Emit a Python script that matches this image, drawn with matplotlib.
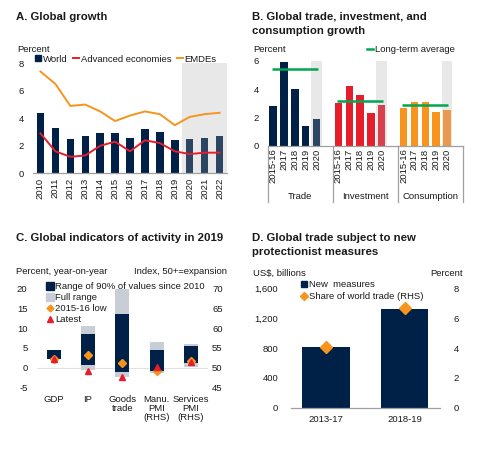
import numpy as np
import matplotlib
matplotlib.use("Agg")
import matplotlib.pyplot as plt
import matplotlib.transforms as mtransforms
from matplotlib.lines import Line2D

plt.rcParams['font.family'] = ['Liberation Sans', 'DejaVu Sans']
plt.rcParams['text.color'] = '#1a1a1a'
plt.rcParams['xtick.color'] = '#1a1a1a'
plt.rcParams['ytick.color'] = '#1a1a1a'
plt.rcParams['axes.unicode_minus'] = False

# ---- data ----
# A. Global growth
years = ['2010', '2011', '2012', '2013', '2014', '2015', '2016',
         '2017', '2018', '2019', '2020', '2021', '2022']
world = [4.4, 3.3, 2.5, 2.7, 2.9, 2.9, 2.6, 3.2, 3.0, 2.4, 2.5, 2.6, 2.7]
advanced = [2.9, 1.6, 1.2, 1.3, 2.0, 2.3, 1.6, 2.4, 2.2, 1.6, 1.4, 1.5, 1.5]
emdes = [7.4, 6.5, 4.9, 5.0, 4.5, 3.8, 4.2, 4.5, 4.3, 3.5, 4.1, 4.3, 4.4]
n_forecast = 3

# B. Trade, investment, consumption
b_periods = ['2015-16', '2017', '2018', '2019', '2020']
b_groups = ['Trade', 'Investment', 'Consumption']
trade = [2.8, 5.9, 4.0, 1.4, 1.9]
investment = [3.0, 4.2, 3.6, 2.3, 2.9]
consumption = [2.7, 3.1, 3.1, 2.4, 2.5]
long_term_avg = [5.4, 3.2, 2.9]

# C. Indicators of activity (first three: percent, last two: index)
c_labels = ['GDP', 'IP', 'Goods\ntrade', 'Manu.\nPMI\n(RHS)', 'Services\nPMI\n(RHS)']
c_full_lo = [2.1, -0.6, -2.3]
c_full_hi = [4.6, 10.6, 19.7]
c_p90_lo = [2.1, 0.7, -1.0]
c_p90_hi = [4.5, 8.5, 13.6]
c_low = [2.1, 3.2, 1.1]
c_latest = [2.3, -0.7, -2.3]
pmi_full_lo = [48.6, 50.2]
pmi_full_hi = [56.5, 56.1]
pmi_p90_lo = [49.3, 51.2]
pmi_p90_hi = [54.6, 55.4]
pmi_low = [49.3, 51.8]
pmi_latest = [50.2, 51.5]

# D. Protectionist measures
d_periods = ['2013-17', '2018-19']
new_measures = [815, 1325]
share_world = [4.05, 6.65]

# ---- style ----
navy = '#002147'
navy_fc = '#2c4562'
red = '#e61e2b'
red_fc = '#d8404e'
orange = '#f7941d'
orange_fc = '#e89a4e'
green = '#00a651'
shade = '#e8e8e8'
fullgray = '#c9cdd5'
spine = '#a0a0a0'
FS = 6.8

W, H = 498, 449
fig = plt.figure(figsize=(W / 100, H / 100), dpi=100)


def px_axes(l, t, r, b):
    return fig.add_axes([l / W, 1 - b / H, (r - l) / W, (b - t) / H])


def ftext(x, y, s, **kw):
    kw.setdefault('fontsize', FS)
    kw.setdefault('va', 'center')
    fig.text(x / W, 1 - y / H, s, **kw)


def clean(ax, keep_bottom=True):
    for side in ['top', 'right', 'left']:
        ax.spines[side].set_visible(False)
    if keep_bottom:
        ax.spines['bottom'].set_color(spine)
        ax.spines['bottom'].set_linewidth(0.9)
    else:
        ax.spines['bottom'].set_visible(False)
    ax.tick_params(length=0, labelsize=FS)


def px_legend(ax, handles, labels, x, y, **kw):
    return ax.legend(handles, labels, loc='center left',
                     bbox_to_anchor=(x / W, 1 - y / H),
                     bbox_transform=fig.transFigure, frameon=False,
                     fontsize=FS, borderpad=0, borderaxespad=0, **kw)


# ---- A ----
axA = px_axes(33, 63.3, 227, 173.3)
xa = np.arange(len(years))
n_hist = len(years) - n_forecast
axA.axvspan(n_hist - 0.5, len(years) - 0.5, color=shade, zorder=0, lw=0)
colsA = [navy] * n_hist + [navy_fc] * n_forecast
axA.bar(xa, world, width=0.5, color=colsA, zorder=2)
axA.plot(xa, advanced, color=red, lw=1.4, zorder=3)
axA.plot(xa, emdes, color=orange, lw=1.4, zorder=3)
axA.set_xlim(-0.5, len(years) - 0.5)
axA.set_ylim(0, 8)
axA.set_yticks([0, 2, 4, 6, 8])
axA.set_xticks(xa)
axA.set_xticklabels(years, rotation=90)
clean(axA)
axA.tick_params(axis='y', pad=6.5)
axA.tick_params(axis='x', pad=3.3)
hA = [Line2D([], [], marker='s', ls='none', color=navy, markersize=5),
      Line2D([], [], color=red, lw=1.4),
      Line2D([], [], color=orange, lw=1.4)]
px_legend(axA, hA, ['World', 'Advanced economies', 'EMDEs'], 35, 59,
          ncol=3, handlelength=0.7, handletextpad=0.15, columnspacing=0.55)
ftext(16, 17, 'A. Global growth', fontsize=8.2, fontweight='bold')
ftext(17, 50, 'Percent')

# ---- B ----
axB = px_axes(267.7, 61, 463.3, 145.7)
seriesB = [trade, investment, consumption]
colB = [(navy, navy_fc), (red, red_fc), (orange, orange_fc)]
step = len(b_periods) + 1
xt, xl = [], []
for g, (vals, (c, cfc)) in enumerate(zip(seriesB, colB)):
    pos = np.arange(len(vals)) + g * step
    axB.bar(pos[-1], 6, width=1.0, color=shade, zorder=0, lw=0)
    cols = [c] * (len(vals) - 1) + [cfc]
    axB.bar(pos, vals, width=0.68, color=cols, zorder=2)
    axB.hlines(long_term_avg[g], pos[0] - 0.1, pos[-1] + 0.1,
               color=green, lw=1.8, zorder=3)
    xt.extend(pos)
    xl.extend(b_periods)
axB.set_xlim(-0.5, len(b_groups) * step - 0.5)
axB.set_ylim(0, 6)
axB.set_yticks([0, 2, 4, 6])
axB.set_xticks(xt)
axB.set_xticklabels(xl, rotation=90)
clean(axB)
axB.tick_params(axis='y', pad=6.5)
axB.tick_params(axis='x', pad=2)
trB = mtransforms.blended_transform_factory(axB.transData, axB.transAxes)
for g in range(len(b_groups) + 1):
    xs = g * step - 0.5
    axB.plot([xs, xs], [0, -0.66], transform=trB, color=spine, lw=0.9,
             clip_on=False)
for g, name in enumerate(b_groups):
    axB.text(g * step + (step - 1) / 2, -0.60, name, transform=trB,
             ha='center', va='center', fontsize=FS)
hB = [Line2D([], [], color=green, lw=1.8)]
px_legend(axB, hB, ['Long-term average'], 366.5, 50,
          handlelength=0.7, handletextpad=0.15)
ftext(251.7, 16.7, 'B. Global trade, investment, and',
      fontsize=8.2, fontweight='bold')
ftext(251.7, 31.5, 'consumption growth', fontsize=8.2, fontweight='bold')
ftext(253, 50, 'Percent')

# ---- C ----
axC = px_axes(36.5, 288.3, 208, 387.7)
axC2 = axC.twinx()
bw = 0.41
xc = np.arange(len(c_labels))
nl = len(c_full_lo)
xl_c, xr_c = xc[:nl], xc[nl:]
axC.axhline(0, color='#e2e2e2', lw=0.8, zorder=0)
axC.bar(xl_c, np.subtract(c_full_hi, c_full_lo), bottom=c_full_lo,
        width=bw, color=fullgray, zorder=1)
axC.bar(xl_c, np.subtract(c_p90_hi, c_p90_lo), bottom=c_p90_lo,
        width=bw, color=navy, zorder=2)
axC.plot(xl_c, c_low, ls='none', marker='D', color=orange, markersize=4,
         zorder=3)
axC.plot(xl_c, c_latest, ls='none', marker='^', color=red, markersize=5,
         zorder=4)
axC2.bar(xr_c, np.subtract(pmi_full_hi, pmi_full_lo), bottom=pmi_full_lo,
         width=bw, color=fullgray, zorder=1)
axC2.bar(xr_c, np.subtract(pmi_p90_hi, pmi_p90_lo), bottom=pmi_p90_lo,
         width=bw, color=navy, zorder=2)
axC2.plot(xr_c, pmi_low, ls='none', marker='D', color=orange, markersize=4,
          zorder=3)
axC2.plot(xr_c, pmi_latest, ls='none', marker='^', color=red, markersize=5,
          zorder=4)
axC.set_xlim(-0.5, len(c_labels) - 0.5)
axC.set_ylim(-5, 20)
axC2.set_ylim(45, 70)
axC.set_yticks(range(-5, 21, 5))
axC2.set_yticks(range(45, 71, 5))
axC.set_xticks(xc)
axC.set_xticklabels(c_labels, linespacing=1.05, va='top')
clean(axC, keep_bottom=False)
clean(axC2, keep_bottom=False)
axC.tick_params(axis='y', pad=6.5)
axC2.tick_params(axis='y', pad=3)
axC.tick_params(axis='x', pad=5)
hC = [Line2D([], [], marker='s', ls='none', color=navy, markersize=5.5),
      Line2D([], [], marker='s', ls='none', color=fullgray, markersize=5.5),
      Line2D([], [], marker='D', ls='none', color=orange, markersize=3.5),
      Line2D([], [], marker='^', ls='none', color=red, markersize=4.5)]
legC = px_legend(axC2, hC, ['Range of 90% of values since 2010', 'Full range',
                            '2015-16 low', 'Latest'], 46, 303,
                 handlelength=0.8, handletextpad=0.2, labelspacing=0.22)
ftext(16, 237.7, 'C. Global indicators of activity in 2019',
      fontsize=8.2, fontweight='bold')
ftext(16, 271.7, 'Percent, year-on-year')
ftext(227, 271.7, 'Index, 50+=expansion', ha='right')

# ---- D ----
axD = px_axes(290.7, 288.3, 440, 407.7)
axD2 = axD.twinx()
xd = np.arange(len(d_periods))
axD.bar(xd, new_measures, width=0.6, color=navy, zorder=2)
axD2.plot(xd, share_world, ls='none', marker='D', color=orange,
          markersize=6.5, zorder=3)
axD.set_xlim(-0.45, len(d_periods) - 0.55)
axD.set_ylim(0, 1600)
axD2.set_ylim(0, 8)
axD.set_yticks([0, 400, 800, 1200, 1600])
axD.set_yticklabels(['{:,}'.format(v) for v in [0, 400, 800, 1200, 1600]])
axD2.set_yticks([0, 2, 4, 6, 8])
axD.set_xticks(xd)
axD.set_xticklabels(d_periods)
clean(axD)
clean(axD2)
axD2.spines['bottom'].set_visible(False)
axD.tick_params(axis='y', pad=9)
axD2.tick_params(axis='y', pad=10)
axD.tick_params(axis='x', pad=5)
hD = [Line2D([], [], marker='s', ls='none', color=navy, markersize=4),
      Line2D([], [], marker='D', ls='none', color=orange, markersize=4)]
px_legend(axD2, hD, ['New  measures', 'Share of world trade (RHS)'], 301, 290.5,
          handlelength=0.7, handletextpad=0.15, labelspacing=0.3)
ftext(251.7, 238.3, 'D. Global trade subject to new',
      fontsize=8.2, fontweight='bold')
ftext(251.7, 252, 'protectionist measures', fontsize=8.2, fontweight='bold')
ftext(253, 273.3, 'US$, billions')
ftext(463.3, 273.3, 'Percent', ha='right')

fig.savefig('out.png', dpi=100)
